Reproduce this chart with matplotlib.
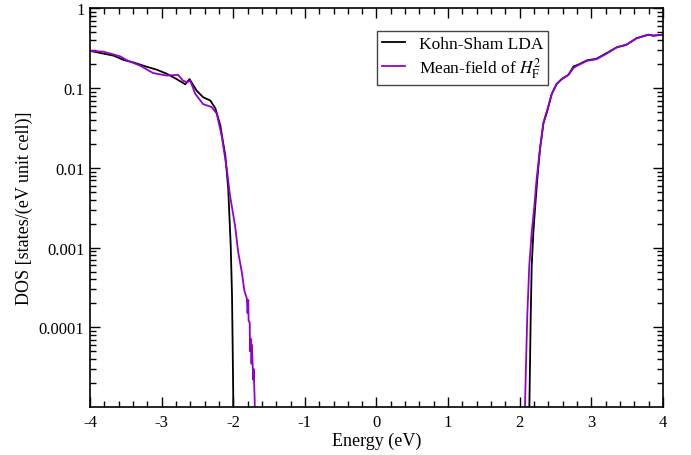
import matplotlib
matplotlib.use('Agg')
import matplotlib.pyplot as plt
import matplotlib.ticker as ticker
import numpy as np

plt.rcParams['font.family'] = ['Liberation Serif', 'DejaVu Serif']
plt.rcParams['mathtext.fontset'] = 'stix'
plt.rcParams['axes.unicode_minus'] = False

# Kohn-Sham LDA, valence side
lda_val_e = [-4.0, -3.86, -3.67, -3.53, -3.40, -3.21, -3.07, -2.93, -2.79, -2.67,
             -2.61, -2.56, -2.51, -2.42, -2.32, -2.25, -2.18, -2.15, -2.11, -2.07,
             -2.035, -2.017, -2.008, -2.0, -1.998]
lda_val_dos = [0.294, 0.277, 0.256, 0.226, 0.211, 0.186, 0.171, 0.152, 0.130, 0.112,
               0.130, 0.110, 0.093, 0.077, 0.070, 0.056, 0.034, 0.023, 0.0142, 0.0055,
               0.00106, 2.5e-4, 5.9e-5, 1.4e-5, 1e-7]

# Mean-field of H_F^2, valence side
mf_val_e = [-4.0, -3.81, -3.58, -3.47, -3.30, -3.12, -2.93, -2.77, -2.70, -2.64,
            -2.60, -2.53, -2.42, -2.30, -2.23, -2.16, -2.09, -2.045, -1.975, -1.93,
            -1.88, -1.845, -1.81, -1.80, -1.79, -1.785, -1.77, -1.765, -1.75, -1.745,
            -1.74, -1.72, -1.715, -1.70, -1.698]
mf_val_dos = [0.294, 0.287, 0.251, 0.221, 0.192, 0.155, 0.144, 0.147, 0.124, 0.119,
              0.124, 0.085, 0.063, 0.058, 0.048, 0.025, 0.0097, 0.0045, 0.0019, 8.7e-4,
              4.9e-4, 2.9e-4, 2.3e-4, 1.5e-4, 2.2e-4, 1.2e-4, 1.15e-4, 5.0e-5, 7.1e-5, 3.5e-5,
              6.0e-5, 2.2e-5, 3.0e-5, 1.2e-5, 1e-7]

# Kohn-Sham LDA, conduction side
lda_con_e = [2.132, 2.134, 2.143, 2.153, 2.167, 2.19, 2.213, 2.245, 2.283, 2.33,
             2.385, 2.446, 2.515, 2.586, 2.68, 2.75, 2.82, 2.935, 3.07, 3.215,
             3.355, 3.49, 3.63, 3.795, 3.865, 4.0]
lda_con_dos = [1e-7, 1e-5, 3.3e-5, 1.4e-4, 5.9e-4, 0.00156, 0.00305, 0.0073, 0.0173, 0.036,
               0.052, 0.0845, 0.113, 0.130, 0.147, 0.187, 0.198, 0.223, 0.234, 0.276,
               0.326, 0.351, 0.423, 0.469, 0.456, 0.469]

# Mean-field of H_F^2, conduction side
mf_con_e = [2.071, 2.073, 2.087, 2.105, 2.133, 2.167, 2.2, 2.236, 2.283, 2.33,
            2.385, 2.446, 2.515, 2.586, 2.68, 2.75, 2.82, 2.935, 3.07, 3.215,
            3.355, 3.49, 3.63, 3.795, 3.865, 4.0]
mf_con_dos = [1e-7, 1e-5, 3.3e-5, 1.4e-4, 5.9e-4, 0.00156, 0.00305, 0.0073, 0.0175, 0.037,
              0.054, 0.0845, 0.113, 0.130, 0.147, 0.180, 0.195, 0.220, 0.231, 0.272,
              0.326, 0.351, 0.423, 0.469, 0.456, 0.469]

ytick_vals = [1e-4, 1e-3, 1e-2, 1e-1, 1]
ytick_labels = ['0.0001', '0.001', '0.01', '0.1', '1']

black = 'black'
violet = '#9400d3'

fig = plt.figure(figsize=(6.91, 4.56), dpi=100)
ax = fig.add_axes([0.1302, 0.1053, 0.8293, 0.8739])

ax.plot(lda_val_e, lda_val_dos, color=black, lw=1.3, label='Kohn-Sham LDA')
ax.plot(mf_val_e, mf_val_dos, color=violet, lw=1.3, label=r'Mean-field of $H_{\mathrm{F}}^{2}$')
ax.plot(lda_con_e, lda_con_dos, color=black, lw=1.3)
ax.plot(mf_con_e, mf_con_dos, color=violet, lw=1.3)

ax.set_yscale('log')
ax.set_xlim(-4, 4)
ax.set_ylim(1.0e-5, 1)

ax.xaxis.set_major_locator(ticker.MultipleLocator(1))
ax.xaxis.set_minor_locator(ticker.MultipleLocator(0.2))
ax.xaxis.set_major_formatter(ticker.FormatStrFormatter('%g'))
ax.set_yticks(ytick_vals)
ax.set_yticklabels(ytick_labels)
ax.yaxis.set_minor_locator(ticker.LogLocator(base=10, subs=np.arange(2, 10)))
ax.yaxis.set_minor_formatter(ticker.NullFormatter())

ax.tick_params(which='both', direction='in', top=True, right=True, labelsize=12, width=1)
ax.tick_params(which='major', length=7.5)
ax.tick_params(which='minor', length=4)
ax.tick_params(axis='x', pad=5)
ax.tick_params(axis='y', pad=4)
for s in ax.spines.values():
    s.set_linewidth(1.2)

ax.set_xlabel('Energy (eV)', fontsize=13, labelpad=1)
ax.set_ylabel('DOS [states/(eV unit cell)]', fontsize=13, labelpad=4)

leg = ax.legend(loc='upper left', bbox_to_anchor=(0.501, 0.9435), fontsize=12.5,
                frameon=True, fancybox=False, edgecolor='#444444', framealpha=1,
                handlelength=1.3, handletextpad=0.8, borderpad=0.3, labelspacing=0.15,
                borderaxespad=0)
leg.get_frame().set_linewidth(1)

fig.savefig('out.png', dpi=100)
